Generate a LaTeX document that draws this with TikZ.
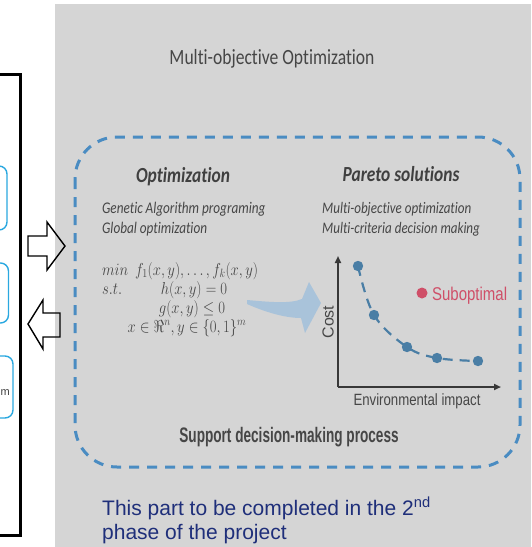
\documentclass[tikz,border=0pt]{standalone}
\usepackage{fontspec}
\usetikzlibrary{arrows.meta, positioning}
\newfontfamily\calib[Ligatures=CommonOff]{Carlito}
\newfontfamily\arialf{Liberation Sans}
\newcommand{\fsz}[1]{\fontsize{#1}{#1}\selectfont}

\definecolor{panel}{HTML}{D5D5D5}
\definecolor{dashblue}{HTML}{4A8CC2}
\definecolor{dotblue}{HTML}{4A7EA5}
\definecolor{subred}{HTML}{CF4F68}
\definecolor{navy}{HTML}{1F2F7A}
\definecolor{boxcyan}{HTML}{2AA8E0}
\definecolor{swoosh}{HTML}{A9C3DA}
\definecolor{inktext}{HTML}{464646}

\tikzset{
  squeeze/.style={xscale=0.81, inner sep=0pt, text=inktext},
  mathrow/.style={xscale=0.85, inner sep=0pt, text=inktext, font=\fsz{17.5}},
  blockarrow/.style={draw=black, line width=1.4pt, line join=miter},
  axisline/.style={draw=black!78, line width=2pt, -{Triangle[length=7pt,width=6pt]}},
}

\begin{document}
\begin{tikzpicture}[x=1pt,y=-1pt]
\useasboundingbox (0,0) rectangle (531,547);
\fill [white] (0,0) rectangle (531,547);
\fill [panel] (55,4) rectangle (531,547);

% left frame with its boxes
\draw [line width=3pt] (-10,74) rectangle (20,535);
\foreach \top/\bot/\rgt in {166/230/7, 263/323/8.5, 356/418/13} {
  \draw [boxcyan, line width=1.4pt, fill=white, rounded corners=8pt] (-30,\top) rectangle (\rgt,\bot);
}
\node [font=\arialf\fsz{11}, text=black!75, inner sep=0pt, anchor=base west] (boxm) at (0.5,395) {m};

% hollow arrows between the frame and the panel
\draw [blockarrow] (28,236) -- (47,236) -- (47,222) -- (65,246) -- (47,270) -- (47,256) -- (28,256) -- cycle;
\draw [blockarrow] (60,313) -- (43,313) -- (43,300) -- (28,324) -- (43,349) -- (43,337) -- (60,337) -- cycle;

\node [squeeze, font=\calib\fsz{21.7}, anchor=base] (title) at (272,64) {Multi-objective Optimization};

% dashed process outline
\draw [dashblue, line width=3pt, dash pattern=on 10pt off 8pt, rounded corners=42pt] (75,137) rectangle (520,467);

\begin{scope}[every node/.style={squeeze}]
\node [font=\calib\bfseries\itshape\fsz{21.5}, text=black!75, anchor=base] (optim) at (183,182) {Optimization};
\node [font=\calib\itshape\fsz{16.3}, anchor=base west] (genetic) at (102,213) {Genetic Algorithm programing};
\node [font=\calib\itshape\fsz{16.3}, anchor=base west] (global) at (102,233) {Global optimization};
\node [font=\calib\bfseries\itshape\fsz{21.5}, text=black!75, anchor=base] (pareto) at (401,181) {Pareto solutions};
\node [font=\calib\itshape\fsz{16.1}, anchor=base west] (mobj) at (322,213) {Multi-objective optimization};
\node [font=\calib\itshape\fsz{16.1}, anchor=base west] (mcrit) at (322,233) {Multi-criteria decision making};
\node [font=\arialf\bfseries\fsz{21}, xscale=0.8, anchor=base] (support) at (289,442) {Support decision-making process};
\end{scope}

% problem statement
\node [mathrow, anchor=base west] (minrow) at (102,275) {$min$};
\node [mathrow, anchor=base west] (fobj) at (135,275) {$f_1(x,y),\ldots,f_k(x,y)$};
\node [mathrow, anchor=base west] (st) at (102,294) {$s.t.$};
\node [mathrow, anchor=base] (hcon) at (194,294) {$h(x,y)=0$};
\node [mathrow, anchor=base] (gcon) at (192,313) {$g(x,y)\leq 0$};
\node [mathrow, anchor=base] (dom) at (187,332) {$x\in\Re^n, y\in\{0,1\}^m$};

% bent arrow towards the front
\fill [swoosh] (247,300) .. controls (270,302) and (290,304) .. (302,299)
  -- (309,282) -- (321,303) -- (305,333) -- (301,318)
  .. controls (285,318) and (265,312) .. (247,304) -- cycle;

% Pareto front
\coordinate (orig) at (338,387);
\coordinate (ytip) at (338,256);
\coordinate (xtip) at (501,387);
\draw [axisline] (orig) -- (ytip);
\draw [axisline] (orig) -- (xtip);
\node [font=\arialf\fsz{16}, text=inktext, inner sep=0pt, rotate=90] (cost) at (328,322) {Cost};
\node [squeeze, font=\arialf\fsz{16.3}, anchor=base] (envimp) at (417,405) {Environmental impact};
\foreach \px/\py [count=\i] in {358/266, 374/315, 407/347, 437/358, 478/361} {
  \coordinate (p\i) at (\px,\py);
}
\draw [dotblue, line width=2.2pt, dash pattern=on 10pt off 7pt] plot [smooth, tension=0.6] coordinates {(p1) (p2) (p3) (p4) (p5)};
\foreach \i in {1,...,5} {
  \fill [dotblue] (p\i) circle (5.2);
}
\coordinate (sdot) at (422,293);
\fill [subred] (sdot) circle (5.5);
\node [squeeze, font=\arialf\fsz{18.5}, text=subred, anchor=base west] (subopt) at (432,300) {Suboptimal};

% note under the panel
\node [font=\arialf\fsz{21}, text=navy, inner sep=0pt, anchor=base west] (phase1) at (102,515) {This part to be completed in the 2\textsuperscript{nd}};
\node [font=\arialf\fsz{21}, text=navy, inner sep=0pt, anchor=base west] (phase2) at (102,539) {phase of the project};
\end{tikzpicture}
\end{document}
